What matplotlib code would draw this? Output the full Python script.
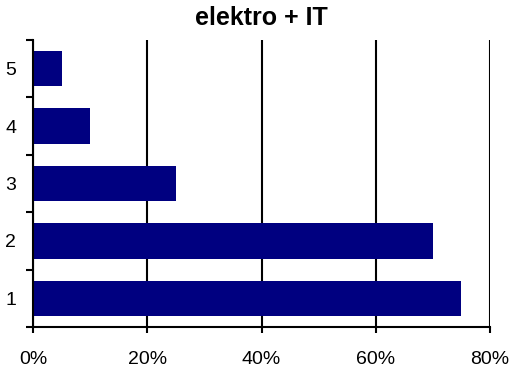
import matplotlib
matplotlib.use("Agg")
import matplotlib.pyplot as plt
from matplotlib.ticker import FixedLocator, FuncFormatter

categories = ["1", "2", "3", "4", "5"]
values = [75, 70, 25, 10, 5]
xticks = [0, 20, 40, 60, 80]

plt.rcParams['font.family'] = ['Liberation Sans', 'DejaVu Sans']

fig = plt.figure(figsize=(5.13, 3.74), dpi=100)
ax = fig.add_axes([33/513, 1-327/374, (490-33)/513, (327-40)/374])

pos = list(range(1, len(categories)+1))
ax.barh(pos, values, height=0.62, color='#000080', zorder=3)

ax.set_xlim(0, 80)
ax.set_ylim(0.5, len(categories)+0.5)
ax.set_xticks(xticks)
ax.xaxis.set_major_formatter(FuncFormatter(lambda v, p: f"{int(v)}%"))
ax.set_yticks(pos)
ax.set_yticklabels(categories)
ax.yaxis.set_minor_locator(FixedLocator([p - 0.5 for p in pos] + [pos[-1] + 0.5]))

ax.grid(axis='x', color='black', linewidth=1.5, zorder=1)
for s in ['top', 'right']:
    ax.spines[s].set_visible(False)
for s in ['left', 'bottom']:
    ax.spines[s].set_linewidth(1.5)
    ax.spines[s].set_zorder(4)

ax.tick_params(axis='y', which='major', length=0, pad=12, labelsize=14)
ax.tick_params(axis='y', which='minor', length=5, width=1.5)
ax.tick_params(axis='x', which='major', length=4, width=1.5, pad=13, labelsize=14)

ax.set_title("elektro + IT", fontsize=18, fontweight='bold', pad=11)

fig.savefig("out.png", dpi=100)
